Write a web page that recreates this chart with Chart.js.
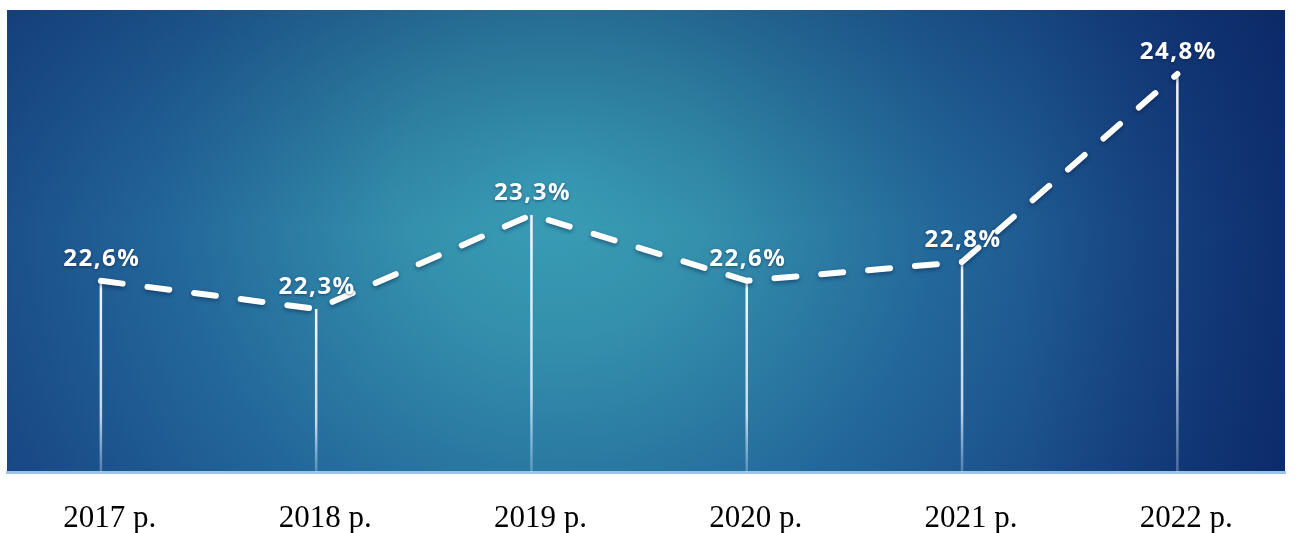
<!DOCTYPE html>
<html>
<head>
<meta charset="utf-8">
<script src="https://cdn.jsdelivr.net/npm/chart.js@4.4.1/dist/chart.umd.min.js"></script>
<style>
  html, body { margin: 0; padding: 0; background: #fff; }
  #wrap { width: 1298px; height: 533px; }
</style>
</head>
<body>
<div id="wrap"><canvas id="shareChart"></canvas></div>
<script>
// Yearly share values (%)
const years = ["2017 р.", "2018 р.", "2019 р.", "2020 р.", "2021 р.", "2022 р."];
const shares = [22.6, 22.3, 23.3, 22.6, 22.8, 24.8];

const points = shares.map((v, i) => ({ x: i, y: v }));

// Blue/teal glow behind the plot
const backdrop = {
    id: "backdrop",
    beforeDraw(chart) {
        const { ctx, chartArea: a } = chart;
        ctx.save();
        const cx = a.left + (a.right - a.left) * 0.43;
        const cy = a.top + 170;
        const g = ctx.createRadialGradient(cx, cy, 0, cx, cy, 780);
        g.addColorStop(0, "#3aa0b8");
        g.addColorStop(0.2, "#3490ac");
        g.addColorStop(0.5, "#23679a");
        g.addColorStop(0.8, "#184684");
        g.addColorStop(1, "#0f3270");
        ctx.fillStyle = g;
        ctx.fillRect(a.left, a.top, a.right - a.left, a.bottom - a.top);
        // darker band along the top edge, stronger towards the right
        const t = ctx.createLinearGradient(0, a.top, 0, a.top + 220);
        t.addColorStop(0, "rgba(8,30,90,0.3)");
        t.addColorStop(1, "rgba(8,30,90,0)");
        ctx.fillStyle = t;
        ctx.fillRect(a.left, a.top, a.right - a.left, 220);
        const r = ctx.createLinearGradient(a.right - 260, 0, a.right, 0);
        r.addColorStop(0, "rgba(8,30,95,0)");
        r.addColorStop(1, "rgba(8,30,95,0.35)");
        ctx.fillStyle = r;
        ctx.fillRect(a.right - 260, a.top, 260, a.bottom - a.top);
        ctx.restore();
    }
};

// Vertical white drop lines from each point to the base
const dropLines = {
    id: "dropLines",
    beforeDatasetsDraw(chart) {
        const { ctx, chartArea: a } = chart;
        const meta = chart.getDatasetMeta(0);
        ctx.save();
        meta.data.forEach(pt => {
            const g = ctx.createLinearGradient(0, pt.y, 0, a.bottom);
            g.addColorStop(0, "rgba(255,255,255,0.95)");
            g.addColorStop(0.7, "rgba(235,245,255,0.8)");
            g.addColorStop(1, "rgba(200,225,255,0.3)");
            ctx.strokeStyle = g;
            ctx.lineWidth = 2.5;
            ctx.beginPath();
            ctx.moveTo(pt.x, pt.y);
            ctx.lineTo(pt.x, a.bottom);
            ctx.stroke();
        });
        ctx.restore();
    },
    beforeDatasetDraw(chart) {
        const ctx = chart.ctx;
        ctx.save();
        ctx.shadowColor = "rgba(0,20,60,0.45)";
        ctx.shadowBlur = 4;
        ctx.shadowOffsetY = 2;
    },
    afterDatasetDraw(chart) {
        chart.ctx.restore();
    }
};

// Percentage labels above the points
const valueLabels = {
    id: "valueLabels",
    afterDatasetsDraw(chart) {
        const { ctx } = chart;
        const meta = chart.getDatasetMeta(0);
        ctx.save();
        ctx.font = "bold 24px 'Open Sans', sans-serif";
        ctx.letterSpacing = "1.5px";
        ctx.textAlign = "center";
        ctx.textBaseline = "alphabetic";
        ctx.fillStyle = "#ffffff";
        ctx.shadowColor = "rgba(0,20,60,0.5)";
        ctx.shadowBlur = 3;
        ctx.shadowOffsetY = 1;
        meta.data.forEach((pt, i) => {
            const txt = shares[i].toFixed(1).replace(".", ",") + "%";
            ctx.fillText(txt, pt.x + 1, pt.y - 15);
        });
        ctx.restore();
    }
};

new Chart(document.getElementById("shareChart"), {
    type: "line",
    data: {
        datasets: [{
            data: points,
            borderColor: "#ffffff",
            borderWidth: 6,
            borderDash: [22, 25],
            borderCapStyle: "round",
            pointRadius: 0,
            tension: 0,
            fill: false
        }]
    },
    options: {
        responsive: true,
        maintainAspectRatio: false,
        animation: false,
        layout: { padding: { left: 7, right: 13, top: 10, bottom: 0 } },
        plugins: {
            legend: { display: false },
            tooltip: { enabled: false }
        },
        scales: {
            x: {
                type: "linear",
                min: -0.436,
                max: 5.5,
                afterBuildTicks(axis) {
                    axis.ticks = years.map((_, i) => ({ value: i }));
                },
                afterFit(axis) {
                    axis.height = 61;
                },
                grid: { display: false, drawTicks: false },
                border: { display: true, color: "#98c4e8", width: 3 },
                ticks: {
                    padding: 28,
                    labelOffset: 9,
                    color: "#000000",
                    font: { family: "'Liberation Serif', 'Times New Roman', serif", size: 31 },
                    callback: v => years[v]
                }
            },
            y: {
                display: false,
                min: 20.566,
                max: 25.48
            }
        }
    },
    plugins: [backdrop, dropLines, valueLabels]
});
</script>
</body>
</html>
